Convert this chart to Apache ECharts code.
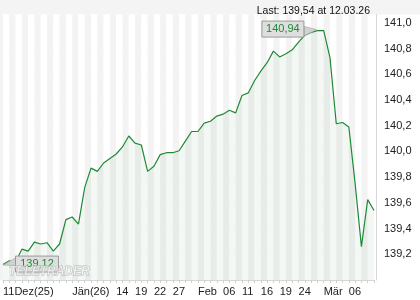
<!DOCTYPE html>
<html><head><meta charset="utf-8">
<script src="https://cdn.jsdelivr.net/npm/echarts@6/dist/echarts.min.js"></script>
<style>html,body{margin:0;padding:0;background:#fff}#c{width:420px;height:300px}</style>
</head><body><div id="c"></div>
<script>
const dates = ['11.12.25','12.12.25','15.12.25','16.12.25','17.12.25','18.12.25','19.12.25','22.12.25','23.12.25','29.12.25','30.12.25',
'02.01.26','05.01.26','07.01.26','08.01.26','09.01.26','12.01.26','13.01.26','14.01.26','15.01.26','16.01.26','19.01.26','20.01.26','21.01.26','22.01.26','23.01.26','26.01.26','27.01.26','28.01.26','29.01.26','30.01.26',
'02.02.26','03.02.26','04.02.26','05.02.26','06.02.26','09.02.26','10.02.26','11.02.26','12.02.26','13.02.26','16.02.26','17.02.26','18.02.26','19.02.26','20.02.26','23.02.26','24.02.26','25.02.26','26.02.26','27.02.26',
'02.03.26','03.03.26','04.03.26','05.03.26','06.03.26','09.03.26','10.03.26','11.03.26','12.03.26'];
const values = [139.12,139.15,139.14,139.24,139.225,139.295,139.28,139.29,139.225,139.28,139.47,
139.49,139.435,139.72,139.87,139.845,139.91,139.945,139.98,140.035,140.12,140.065,140.05,139.845,139.885,139.975,139.99,139.99,140.005,140.08,140.155,
140.155,140.22,140.235,140.275,140.29,140.32,140.30,140.435,140.455,140.55,140.625,140.69,140.78,140.735,140.76,140.79,140.85,140.905,140.925,140.94,
140.94,140.73,140.215,140.225,140.19,139.75,139.26,139.625,139.54];
const tickDates = ['11.12.25','02.01.26','14.01.26','19.01.26','22.01.26','27.01.26','02.02.26','06.02.26','11.02.26','16.02.26','19.02.26','24.02.26','02.03.26','06.03.26'];
const tickTexts = ['11Dez(25)','Jän(26)','14','19','22','27','Feb','06','11','16','19','24','Mär','06'];
const yMin = 139.0, yMax = 141.065, yStep = 0.2;

const fmt = v => v.toFixed(2).replace('.', ',');
const FONT = 'Liberation Sans, Arial, sans-serif';
const GREEN = '#1f8a36';
const chart = echarts.init(document.getElementById('c'), null, {renderer: 'canvas'});
const lastIdx = values.length - 1;
chart.setOption({
  animation: false,
  backgroundColor: '#ffffff',
  title: {
    text: 'Last: ' + fmt(values[lastIdx]) + ' at ' + dates[lastIdx],
    right: 45, top: 1,
    textStyle: {fontFamily: FONT, fontSize: 10.5, fontWeight: 'normal', color: '#111'}
  },
  grid: {left: 3, right: 46, top: 14.5, bottom: 20, containLabel: false},
  xAxis: {
    type: 'category', data: dates, boundaryGap: false,
    axisLine: {show: true, lineStyle: {color: '#d6d6d6', width: 1}},
    axisTick: {show: true, interval: 0, length: 3, lineStyle: {color: '#cfcfcf'}},
    axisLabel: {
      interval: 0, align: 'left', margin: 6,
      fontFamily: FONT, fontSize: 11, color: '#222',
      formatter: v => { const k = tickDates.indexOf(v); return k >= 0 ? tickTexts[k] : ''; }
    },
    splitLine: {show: false},
    splitArea: {show: true, interval: 0, areaStyle: {color: ['#ffffff', '#f3f3f3']}}
  },
  yAxis: {
    type: 'value', position: 'right', min: yMin, max: yMax, interval: yStep, offset: 2,
    axisLine: {show: true, lineStyle: {color: '#d6d6d6'}},
    axisTick: {show: false},
    axisLabel: {
      margin: 8, fontFamily: FONT, fontSize: 11, color: '#222',
      showMinLabel: false, showMaxLabel: false,
      formatter: v => {
        const r = Math.round(v / yStep) * yStep;
        if (Math.abs(r - v) > 1e-6 || v <= yMin + 1e-6 || v > 141.0001) return '';
        return v.toFixed(1).replace('.', ',');
      }
    },
    splitLine: {show: true, showMinLine: false, showMaxLine: false, lineStyle: {color: '#e2e2e2', width: 1}}
  },
  series: [{
    type: 'line', data: values, symbol: 'none', smooth: false,
    lineStyle: {color: GREEN, width: 1.2},
    areaStyle: {color: 'rgba(40,120,40,0.075)', origin: 'start'},
    z: 3
  }]
});

// annotations for min and max, positioned through the chart's own scales
let iMax = 0, iMin = 0;
values.forEach((v, i) => { if (v > values[iMax]) iMax = i; if (v < values[iMin]) iMin = i; });
const pMax = chart.convertToPixel({xAxisIndex: 0, yAxisIndex: 0}, [iMax, values[iMax]]);
const pMin = chart.convertToPixel({xAxisIndex: 0, yAxisIndex: 0}, [iMin, values[iMin]]);
const gtop = chart.convertToPixel({yAxisIndex: 0}, yMax);
const gbot = chart.convertToPixel({yAxisIndex: 0}, yMin);
const boxStyle = {fill: '#dedede', stroke: '#9a9a9a', lineWidth: 1};
const tailStyle = {fill: '#d2d2d2', stroke: '#b0b0b0', lineWidth: 0.8};
chart.setOption({
  graphic: [
    {type: 'rect', z: -10, silent: true, shape: {x: 0, y: 0, width: 420, height: gtop}, style: {fill: '#f4f4f4'}},
    {type: 'rect', z: -10, silent: true, shape: {x: 0, y: gtop, width: 3, height: gbot - gtop}, style: {fill: '#f3f3f3'}},
    // max
    {type: 'polygon', z: 50, shape: {points: [[pMax[0] - 13, pMax[1] - 4], [pMax[0] - 1, pMax[1] - 1], [pMax[0] - 13, pMax[1] + 5]]}, style: tailStyle},
    {type: 'rect', z: 51, shape: {x: pMax[0] - 55.5, y: pMax[1] - 9.5, width: 42, height: 16}, style: boxStyle},
    {type: 'text', z: 52, x: pMax[0] - 34.5, y: pMax[1] - 1.5, style: {text: fmt(values[iMax]), fill: GREEN, font: '11px ' + FONT, align: 'center', verticalAlign: 'middle'}},
    // min
    {type: 'polygon', z: 50, shape: {points: [[pMin[0] + 13, pMin[1] - 7], [pMin[0] + 0.5, pMin[1] + 0.5], [pMin[0] + 13, pMin[1] + 1]]}, style: tailStyle},
    {type: 'rect', z: 51, shape: {x: pMin[0] + 12.5, y: pMin[1] - 8.5, width: 43, height: 16}, style: boxStyle},
    {type: 'text', z: 52, x: pMin[0] + 34, y: pMin[1] - 0.5, style: {text: fmt(values[iMin]), fill: GREEN, font: '11px ' + FONT, align: 'center', verticalAlign: 'middle'}},
    // watermark
    {type: 'text', z: 60, x: 9, y: 271.5, style: {text: 'TELETRADER', fill: 'rgba(255,255,255,0.55)', stroke: '#b5b5b5', lineWidth: 0.8, font: 'italic bold 12px ' + FONT, verticalAlign: 'middle'}}
  ]
});
</script></body></html>
